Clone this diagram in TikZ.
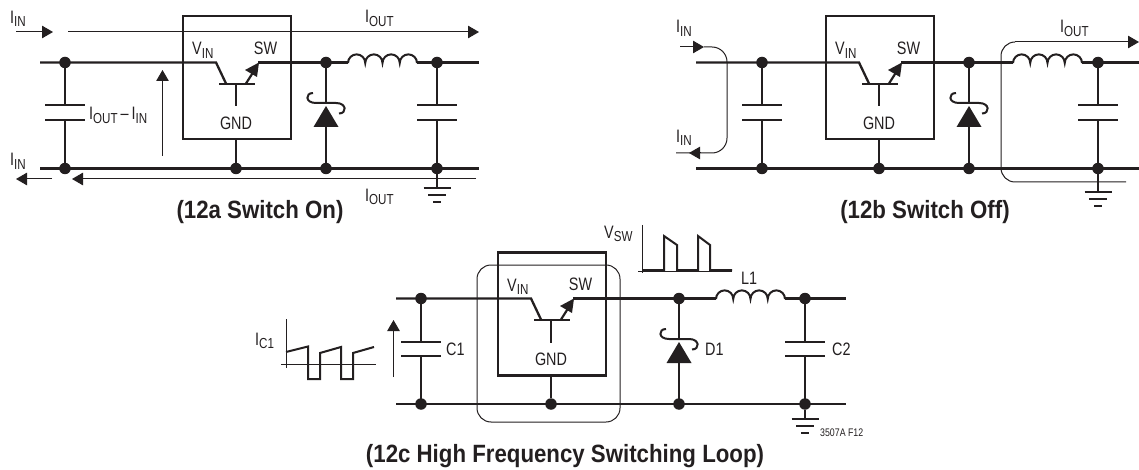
\documentclass[tikz,border=0pt]{standalone}
\usepackage{fontspec}
\setmainfont{Liberation Sans}
\usetikzlibrary{arrows.meta}
\definecolor{ink}{HTML}{231F20}
\newcommand{\plain}[1]{\scalebox{0.8}[1]{#1}}
\newcommand{\lbl}[2]{\scalebox{0.8}[1]{#1\raisebox{-3.5pt}{\fontsize{14.5pt}{15pt}\selectfont #2}}}
\tikzset{
  x=1pt,y=-1pt,
  wire/.style={line width=2.3pt,draw=ink},
  plate/.style={line width=2pt,draw=ink},
  thinl/.style={line width=1pt,draw=ink},
  curr/.style={line width=1pt,draw=ink,-{Triangle[length=11pt,width=12.5pt]}},
  junction/.style={circle,fill=ink,inner sep=0pt,minimum size=11.5pt},
  txt/.style={inner sep=0pt,font=\fontsize{18pt}{20pt}\selectfont,text=ink},
  captext/.style={inner sep=0pt,font=\fontsize{25pt}{27pt}\bfseries\selectfont,text=ink},
}
\newcommand{\cir}[7]{%
% #1 prefix, #2 left end x, #3 input-cap x, #4 box left x, #5 right end x, #6 top wire y, #7 bottom wire y
% \dioX diode x, \indX inductor start x, \outX output cap x, \botW bottom wire width
\pgfmathsetmacro{\bx}{#4}
\pgfmathsetmacro{\ty}{#6}
\pgfmathsetmacro{\by}{#7}
\pgfmathsetmacro{\cx}{\bx+54}
\coordinate (#1wl) at (#2,\ty);
\coordinate (#1bl) at (#2,\by);
\coordinate (#1wr) at (#5,\ty);
\coordinate (#1br) at (#5,\by);
\node[junction] (#1j1) at (#3,\ty) {};
\node[junction] (#1j2) at (#3,\by) {};
\node[junction] (#1j3) at (\cx,\by) {};
\node[junction] (#1j4) at (\dioX,\ty) {};
\node[junction] (#1j5) at (\dioX,\by) {};
\node[junction] (#1j6) at (\outX,\ty) {};
\node[junction] (#1j7) at (\outX,\by) {};
% IC box
\node[draw=ink,line width=2.4pt,minimum width=108pt,minimum height=123pt,inner sep=0pt,anchor=south west] (#1box) at (\bx,\ty+78) {};
% wires
\draw[wire,line width=\botW] (#1bl) -- (#1br);
\draw[wire,line join=miter] (#1wl) -- (\bx+34,\ty) -- (\bx+44,\ty+21);
\draw[wire] (\bx+37,\ty+21.5) -- (\bx+73,\ty+21.5);
\draw[wire] (\cx,\ty+21.5) -- (\cx,\ty+44);
\draw[wire] (#1box.south -| #1j3) -- (#1j3);
\draw[line width=2.2pt,draw=ink] (\bx+64,\ty+21) -- (\bx+71,\ty+10);
\fill[ink] (\bx+77,\ty+0) -- (\bx+75,\ty+14.5) -- (\bx+63,\ty+7.5) -- cycle;
\draw[wire] (\bx+76,\ty) -- (\indX,\ty);
% inductor
\draw[wire,line width=2pt] (\indX,\ty+0.5)
  arc[start angle=180,end angle=0,radius=8.625pt]
  arc[start angle=180,end angle=0,radius=8.625pt]
  arc[start angle=180,end angle=0,radius=8.625pt]
  arc[start angle=180,end angle=0,radius=8.625pt];
\draw[wire] (\indX+69,\ty) -- (#1wr);
% input cap
\draw[plate] (#3,\ty) -- (#3,\ty+43);
\draw[plate] (#3,\by) -- (#3,\ty+57.5);
\draw[plate] (#3-20,\ty+43) -- (#3+20,\ty+43);
\draw[plate] (#3-20,\ty+57.5) -- (#3+20,\ty+57.5);
% output cap
\draw[plate] (\outX,\ty) -- (\outX,\ty+43);
\draw[plate] (\outX,\by) -- (\outX,\ty+57.5);
\draw[plate] (\outX-20,\ty+43) -- (\outX+20,\ty+43);
\draw[plate] (\outX-20,\ty+57.5) -- (\outX+20,\ty+57.5);
% diode
\draw[plate] (\dioX,\ty) -- (\dioX,\ty+41);
\draw[plate] (\dioX,\by) -- (\dioX,\ty+64);
\fill[ink] (\dioX,\ty+43.5) -- (\dioX+12.5,\ty+64.5) -- (\dioX-12.5,\ty+64.5) -- cycle;
\draw[line width=2pt,draw=ink] (\dioX-13,\ty+30.5) .. controls (\dioX-21,\ty+30.5) and (\dioX-21,\ty+40.5) .. (\dioX-10,\ty+40.5) -- (\dioX+10,\ty+40.5) .. controls (\dioX+21,\ty+40.5) and (\dioX+21,\ty+51) .. (\dioX+13,\ty+51);
% labels
\node[txt,anchor=base west] (#1vin) at (\bx+10,\ty-7.5) {\lbl{V}{IN}};
\node[txt,anchor=base] (#1sw) at (\bx+83.5,\ty-8) {\plain{SW}};
\node[txt,anchor=base] (#1gnd) at (\cx,\ty+67) {\plain{GND}};
}
\newcommand{\gnd}[3]{%
% #1 prefix #2 junction #3 bar y
\coordinate (#1g0) at (#2 |- 0,#3);
\draw[plate] (#2) -- (#1g0);
\draw[plate] ([xshift=-13.5pt]#1g0) -- ([xshift=13.5pt]#1g0);
\draw[plate] ([xshift=-9pt,yshift=-7pt]#1g0) -- ([xshift=9pt,yshift=-7pt]#1g0);
\draw[plate] ([xshift=-4pt,yshift=-14pt]#1g0) -- ([xshift=4pt,yshift=-14pt]#1g0);
}
\begin{document}
\begin{tikzpicture}
\useasboundingbox (0,0) rectangle (1139,470);
% ---------- A
\def\dioX{326}\def\indX{348}\def\outX{437}\def\botW{3pt}
\cir{a}{40}{65}{182}{479}{62.5}{168.5}
\gnd{a}{aj7}{188.5}
\coordinate (ai1) at (16,32); \coordinate (ai2) at (53,32);
\draw[curr] (ai1) -- (ai2);
\coordinate (ao1) at (68,32); \coordinate (ao2) at (479,32);
\draw[curr] (ao1) -- (ao2);
\coordinate (au1) at (162.5,156); \coordinate (au2) at (162.5,70);
\draw[curr] (au1) -- (au2);
\coordinate (ar1) at (52,179); \coordinate (ar2) at (16,179);
\draw[curr] (ar1) -- (ar2);
\coordinate (as1) at (476,179); \coordinate (as2) at (72,179);
\draw[curr] (as1) -- (as2);
\node[txt,anchor=base west] (at1) at (10,23.5) {\lbl{I}{IN}};
\node[txt,anchor=base west] (at2) at (10,166) {\lbl{I}{IN}};
\node[txt,anchor=base west] (at3) at (365,23) {\lbl{I}{OUT}};
\node[txt,anchor=base west] (at4) at (365,201.5) {\lbl{I}{OUT}};
\node[txt,anchor=base west] (at5) at (89,120) {\lbl{I}{OUT}\,\plain{–}\,\lbl{I}{IN}};
\node[captext,anchor=base] (acap) at (260,218.5) {\scalebox{0.89}[1]{(12a Switch On)}};
% ---------- B
\def\dioX{969}\def\indX{1013}\def\outX{1098}\def\botW{3pt}
\cir{b}{696}{762}{825}{1139}{62.5}{168.5}
\gnd{b}{bj7}{192}
\coordinate (bi1) at (680,47); \coordinate (bi2) at (704,47);
\draw[curr] (bi1) -- (bi2);
\coordinate (bc1) at (704,47); \coordinate (bc2) at (676,153);
\draw[thinl] (bc1) -- (712,47) arc[start angle=90,end angle=0,radius=15pt] -- (727,138) arc[start angle=0,end angle=-90,radius=15pt] -- (bc2);
\coordinate (bi3) at (700,153); \coordinate (bi4) at (689,153);
\draw[curr] (bi3) -- (bi4);
\coordinate (bo1) at (1139,42); \coordinate (bo2) at (1126,182);
\draw[curr] (1015,42) -- (bo1);
\draw[thinl] (1015,42) arc[start angle=90,end angle=180,radius=14pt] -- (1001,168) arc[start angle=180,end angle=270,radius=14pt] -- (bo2);
\node[txt,anchor=base west] (bt1) at (676,33) {\lbl{I}{IN}};
\node[txt,anchor=base west] (bt2) at (676,142.5) {\lbl{I}{IN}};
\node[txt,anchor=base west] (bt3) at (1060,33) {\lbl{I}{OUT}};
\node[captext,anchor=base] (bcap) at (925,218.5) {\scalebox{0.89}[1]{(12b Switch Off)}};
% ---------- C
\def\dioX{679}\def\indX{716}\def\outX{805}\def\botW{2.3pt}
\cir{c}{396}{421}{497}{846}{298.5}{404}
\gnd{c}{cj7}{419}
\draw[thinl,rounded corners=14pt] (477,265) rectangle (620,422);
\coordinate (cu1) at (393.5,377); \coordinate (cu2) at (393.5,320);
\draw[curr] (cu1) -- (cu2);
\node[txt,anchor=base west] (c1t) at (446,355) {\plain{C1}};
\node[txt,anchor=base west] (c2t) at (832,355) {\plain{C2}};
\node[txt,anchor=base west] (d1t) at (705,355) {\plain{D1}};
\node[txt,anchor=base] (l1t) at (749,284) {\plain{L1}};
\node[inner sep=0pt,anchor=base west,text=ink,font=\fontsize{11pt}{12pt}\selectfont] (figt) at (820,436) {\plain{3507A F12}};
\node[txt,anchor=base west] (ict) at (255,345) {\lbl{I}{C1}};
\node[txt,anchor=base west] (vswt) at (604,238) {\lbl{V}{SW}};
\node[captext,anchor=base] (ccap) at (565,462.5) {\scalebox{0.89}[1]{(12c High Frequency Switching Loop)}};
% I_C1 waveform
\draw[thinl] (286,319) -- (286,368);
\draw[thinl] (281,364.5) -- (376,364.5);
\draw[line width=2pt,draw=ink,line join=miter] (286,352) -- (308,346.5) -- (308,379) -- (320,379) -- (320,353) -- (341,347) -- (341,379) -- (353,379) -- (353,353) -- (374,347);
% V_SW waveform
\draw[thinl] (642,225) -- (642,273);
\draw[thinl] (638,271) -- (732,271);
\draw[line width=2pt,draw=ink,line join=miter] (643,270) -- (664,270) -- (664,236) -- (677,245) -- (677,270) -- (698,270) -- (698,236) -- (710,245) -- (710,270) -- (732,270);
\end{tikzpicture}
\end{document}
